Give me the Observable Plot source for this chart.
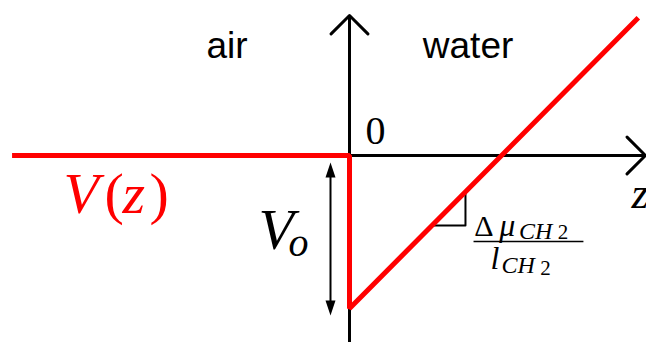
<!DOCTYPE html>
<html>
<head>
<meta charset="utf-8">
<script src="https://cdn.jsdelivr.net/npm/d3@7"></script>
<script src="https://cdn.jsdelivr.net/npm/@observablehq/plot@0.6"></script>
<style>
  html, body { margin: 0; padding: 0; background: #fff; }
  svg { display: block; }
</style>
</head>
<body>
<div id="chart"></div>
<script>
// Potential profile V(z): flat in air, step down by Vo at the interface, then linear rise in water
const curveZ = [-2.22, 0, 0, 1.90];
const curveV = [0, 0, -1, 0.90];

// Region labels
const regionNames = ["air", "water"];
const regionZ = [-0.806, 0.78];
const regionV = [0.634, 0.634];

const curve = curveZ.map((z, i) => ({z, v: curveV[i]}));
const regions = regionNames.map((t, i) => ({t, z: regionZ[i], v: regionV[i]}));

const serif = "Liberation Serif, Times New Roman, serif";
const sans = "Liberation Sans, Arial, Helvetica, sans-serif";

// filled arrow-head symbol (tip at origin, pointing up)
const headSymbol = {
  draw(ctx) { ctx.moveTo(0, 0); ctx.lineTo(5, 15); ctx.lineTo(-5, 15); ctx.closePath(); }
};

function txt(t, z, v, size, opts = {}) {
  return Plot.text([{t, z, v}], {
    x: "z", y: "v", text: "t", fontSize: size, fontFamily: opts.family || serif,
    fontStyle: opts.italic ? "italic" : "normal", fill: opts.fill || "black",
    textAnchor: opts.anchor || "start", lineAnchor: "bottom"
  });
}

const chart = Plot.plot({
  width: 646,
  height: 342,
  margin: 0,
  x: {domain: [-349 / 152, 297 / 152], axis: null},
  y: {domain: [-187 / 153, 155 / 153], axis: null},
  marks: [
    // axes with open arrowheads
    Plot.arrow([{x1: 0, y1: -1.23, x2: 0, y2: 0.915}], {x1: "x1", y1: "y1", x2: "x2", y2: "y2", stroke: "black", strokeWidth: 3, headLength: 13, headAngle: 90}),
    Plot.arrow([{x1: 0, y1: 0, x2: 1.947, y2: 0}], {x1: "x1", y1: "y1", x2: "x2", y2: "y2", stroke: "black", strokeWidth: 3, headLength: 13, headAngle: 90}),
    // double arrow for Vo
    Plot.link([{x1: -0.125, y1: -0.1, x2: -0.125, y2: -0.99}], {x1: "x1", y1: "y1", x2: "x2", y2: "y2", stroke: "black", strokeWidth: 2}),
    Plot.dot([{z: -0.125, v: -0.046}], {x: "z", y: "v", symbol: headSymbol, fill: "black", stroke: "none"}),
    Plot.dot([{z: -0.125, v: -1.046}], {x: "z", y: "v", symbol: headSymbol, fill: "black", stroke: "none", rotate: 180}),
    // slope triangle
    Plot.line([{z: 0.54, v: -0.458}, {z: 0.763, v: -0.458}, {z: 0.763, v: -0.237}], {x: "z", y: "v", stroke: "black", strokeWidth: 2}),
    // fraction bar
    Plot.link([{x1: 0.816, x2: 1.539, y: -0.562}], {x1: "x1", x2: "x2", y1: "y", y2: "y", stroke: "black", strokeWidth: 1.5}),
    // red potential curve
    Plot.line(curve, {x: "z", y: "v", stroke: "#ff0000", strokeWidth: 5, strokeLinejoin: "miter", strokeLinecap: "butt"}),
    // labels
    Plot.text(regions, {x: "z", y: "v", text: "t", fontSize: 37, fontFamily: sans, textAnchor: "middle", lineAnchor: "bottom", fill: "black"}),
    txt("0", 0.105, 0.078, 40),
    // V(z)
    txt("V", -1.882, -0.373, 58, {italic: true, fill: "#ff0000"}),
    txt("(", -1.612, -0.373, 58, {fill: "#ff0000"}),
    txt("z", -1.493, -0.373, 58, {italic: true, fill: "#ff0000"}),
    txt(")", -1.316, -0.373, 58, {fill: "#ff0000"}),
    // Vo
    txt("V", -0.599, -0.608, 58, {italic: true}),
    txt("o", -0.401, -0.654, 40, {italic: true}),
    txt("z", 1.855, -0.34, 44, {italic: true}),
    // numerator Δμ_CH2
    txt("Δ", 0.82, -0.523, 30),
    txt("μ", 0.985, -0.523, 32, {italic: true}),
    txt("CH", 1.115, -0.549, 24, {italic: true}),
    txt("2", 1.37, -0.549, 21),
    // denominator l_CH2
    txt("l", 0.928, -0.739, 32, {italic: true}),
    txt("CH", 1.0, -0.77, 24, {italic: true}),
    txt("2", 1.255, -0.78, 21)
  ]
});
document.getElementById("chart").appendChild(chart);
</script>
</body>
</html>
